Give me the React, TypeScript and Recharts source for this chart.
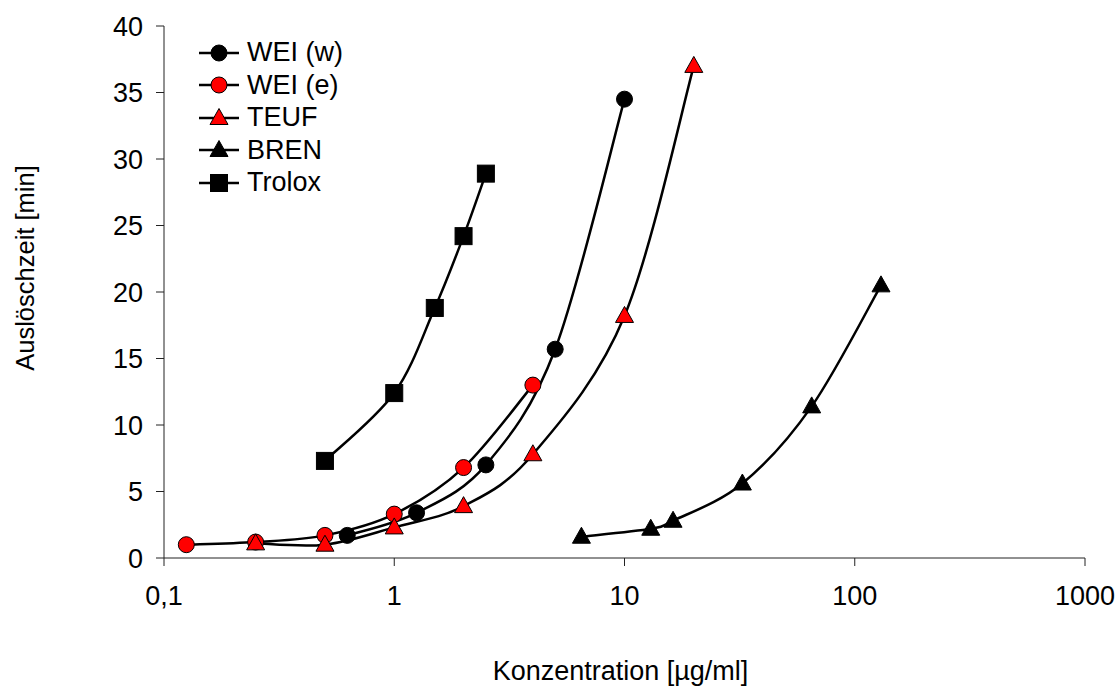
import React from 'react';
import { LineChart, Line, XAxis, YAxis } from 'recharts';

const weiW = [
  { x: 0.625, y: 1.7 },
  { x: 1.25, y: 3.4 },
  { x: 2.5, y: 7.0 },
  { x: 5, y: 15.7 },
  { x: 10, y: 34.5 },
];
const weiE = [
  { x: 0.125, y: 1.0 },
  { x: 0.25, y: 1.2 },
  { x: 0.5, y: 1.7 },
  { x: 1, y: 3.3 },
  { x: 2, y: 6.8 },
  { x: 4, y: 13.0 },
];
const teuf = [
  { x: 0.25, y: 1.1 },
  { x: 0.5, y: 1.0 },
  { x: 1, y: 2.3 },
  { x: 2, y: 3.9 },
  { x: 4, y: 7.8 },
  { x: 10, y: 18.2 },
  { x: 20, y: 37.0 },
];
const bren = [
  { x: 6.5, y: 1.6 },
  { x: 13, y: 2.2 },
  { x: 16.25, y: 2.8 },
  { x: 32.5, y: 5.6 },
  { x: 65, y: 11.4 },
  { x: 130, y: 20.5 },
];
const trolox = [
  { x: 0.5, y: 7.3 },
  { x: 1, y: 12.4 },
  { x: 1.5, y: 18.8 },
  { x: 2, y: 24.2 },
  { x: 2.5, y: 28.9 },
];

const xTicks = [0.1, 1, 10, 100, 1000];
const yTicks = [0, 5, 10, 15, 20, 25, 30, 35, 40];

const FONT = '"Liberation Sans", Arial, sans-serif';
const RED = '#ff0000';

// smoothed line like the spreadsheet one (catmull-rom through the points)
const smoothCurve = (context: any) => {
  let pts: number[][] = [];
  return {
    areaStart() {},
    areaEnd() {},
    lineStart() {
      pts = [];
    },
    point(x: number, y: number) {
      pts.push([+x, +y]);
    },
    lineEnd() {
      const n = pts.length;
      if (!n) return;
      context.moveTo(pts[0][0], pts[0][1]);
      for (let i = 0; i < n - 1; i++) {
        const p0 = pts[i - 1] || pts[i];
        const p1 = pts[i];
        const p2 = pts[i + 1];
        const p3 = pts[i + 2] || p2;
        context.bezierCurveTo(
          p1[0] + (p2[0] - p0[0]) / 6,
          p1[1] + (p2[1] - p0[1]) / 6,
          p2[0] - (p3[0] - p1[0]) / 6,
          p2[1] - (p3[1] - p1[1]) / 6,
          p2[0],
          p2[1]
        );
      }
    },
  };
};

const Marker = ({ shape, fill, cx, cy }: any) => {
  if (shape === 'circle') {
    return <circle cx={cx} cy={cy} r={8} fill={fill} stroke="#000" strokeWidth={1} />;
  }
  if (shape === 'square') {
    return <rect x={cx - 8.5} y={cy - 8.5} width={17} height={17} fill={fill} stroke="#000" strokeWidth={1} />;
  }
  return (
    <polygon
      points={`${cx},${cy - 9.5} ${cx + 9},${cy + 6.5} ${cx - 9},${cy + 6.5}`}
      fill={fill}
      stroke="#000"
      strokeWidth={1}
    />
  );
};

const series = [
  { name: 'WEI (w)', data: weiW, shape: 'circle', fill: '#000' },
  { name: 'WEI (e)', data: weiE, shape: 'circle', fill: RED },
  { name: 'TEUF', data: teuf, shape: 'triangle', fill: RED },
  { name: 'BREN', data: bren, shape: 'triangle', fill: '#000' },
  { name: 'Trolox', data: trolox, shape: 'square', fill: '#000' },
];

const LegendBox = () => (
  <div
    style={{
      position: 'absolute',
      left: 191,
      top: 28.25,
      fontFamily: FONT,
      fontSize: 27,
      lineHeight: 1,
    }}
  >
    {series.map((s) => (
      <div key={s.name} style={{ display: 'flex', alignItems: 'center', height: 32.5 }}>
        <svg width={48} height={32} style={{ display: 'block' }}>
          <line x1={0} y1={16} x2={40} y2={16} stroke="#000" strokeWidth={2.5} />
          <Marker shape={s.shape} fill={s.fill} cx={20} cy={16} />
        </svg>
        <span style={{ color: '#000' }}>{s.name}</span>
      </div>
    ))}
  </div>
);

const fmt = (v: number) => String(v).replace('.', ',');

export default function App() {
  return (
    <div style={{ position: 'relative', width: 1120, height: 689, background: '#fff' }}>
      <style>{'body { margin: 0; }'}</style>
      <div style={{ position: 'absolute', left: 8, top: 8, width: 1112, height: 681 }}>
        <LineChart width={1112} height={681} margin={{ top: 18, right: 35, left: 0, bottom: 0 }}>
          <XAxis
            dataKey="x"
            type="number"
            scale="log"
            domain={[0.1, 1000]}
            ticks={xTicks}
            allowDataOverflow
            tickFormatter={fmt}
            height={131}
            tickSize={8}
            tickMargin={20}
            stroke="#222"
            tick={{ fill: '#000', fontSize: 27, fontFamily: FONT }}
            label={({ viewBox }: any) => (
              <text
                x={viewBox.x + viewBox.width / 2 - 4}
                y={viewBox.y + viewBox.height - 9}
                textAnchor="middle"
                fontSize={27}
                fontFamily={FONT}
                fill="#000"
              >
                Konzentration [µg/ml]
              </text>
            )}
          />
          <YAxis
            type="number"
            domain={[0, 40]}
            ticks={yTicks}
            width={156}
            tickSize={8}
            tickMargin={13}
            stroke="#222"
            tick={{ fill: '#000', fontSize: 27, fontFamily: FONT }}
            label={({ viewBox }: any) => {
              const cx = 17;
              const cy = viewBox.y + viewBox.height / 2 - 24;
              return (
                <text
                  x={cx}
                  y={cy}
                  transform={`rotate(-90 ${cx} ${cy})`}
                  textAnchor="middle"
                  dominantBaseline="central"
                  fontSize={25.5}
                  fontFamily={FONT}
                  fill="#000"
                >
                  Auslöschzeit [min]
                </text>
              );
            }}
          />
          {series.map((s) => (
            <Line
              key={s.name}
              name={s.name}
              data={s.data}
              dataKey="y"
              type={smoothCurve as any}
              stroke="#000"
              strokeWidth={2.5}
              dot={(p: any) => <Marker key={`${s.name}-${p.index}`} shape={s.shape} fill={s.fill} cx={p.cx} cy={p.cy} />}
              activeDot={false}
              isAnimationActive={false}
            />
          ))}
        </LineChart>
        <LegendBox />
      </div>
    </div>
  );
}
